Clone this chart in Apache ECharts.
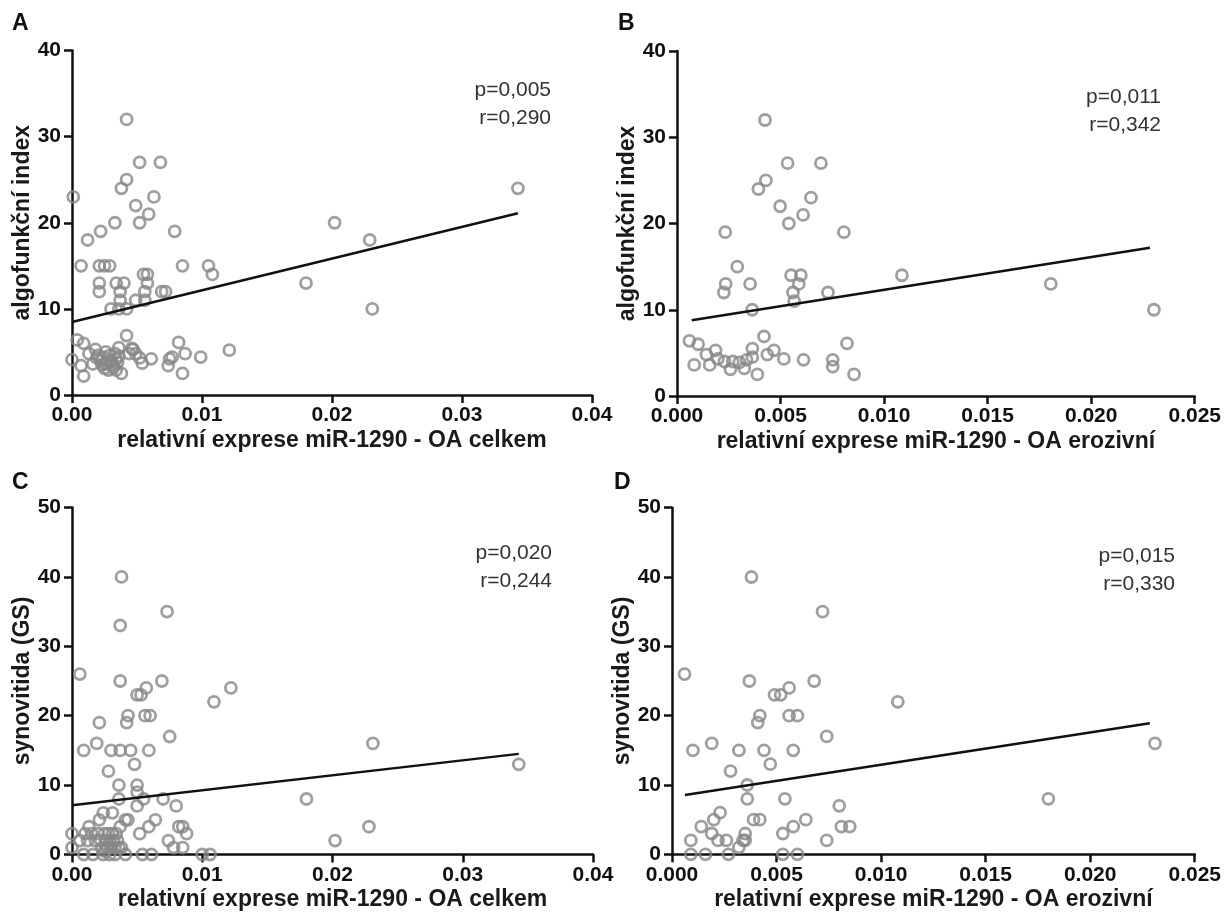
<!DOCTYPE html>
<html><head><meta charset="utf-8">
<script src="https://cdn.jsdelivr.net/npm/echarts@6/dist/echarts.min.js"></script>
<style>html,body{margin:0;padding:0;background:#fff}#c{width:1224px;height:924px}</style>
</head><body><div id="c"></div>
<script>
// ---- Data ----
const panelLetters = ['A', 'B', 'C', 'D'];
const xTitles = ['relativní exprese miR-1290 - OA celkem', 'relativní exprese miR-1290 - OA erozivní',
                 'relativní exprese miR-1290 - OA celkem', 'relativní exprese miR-1290 - OA erozivní'];
const yTitles = ['algofunkční index', 'algofunkční index', 'synovitida (GS)', 'synovitida (GS)'];
const statsP = ['p=0,005', 'p=0,011', 'p=0,020', 'p=0,015'];
const statsR = ['r=0,290', 'r=0,342', 'r=0,244', 'r=0,330'];

// Panel A: algofunkční index vs miR-1290 (OA celkem)
const pointsA = [
  [0.0042,32],[0.0052,27],[0.0068,27],[0.0042,25],[0.0038,24],[0.0063,23],[0.0001,23],[0.0049,22],[0.0059,21],
  [0.0052,20],[0.0033,20],[0.0079,19],[0.0022,19],[0.0012,18],[0.0202,20],[0.0229,18],[0.0343,24],
  [0.0007,15],[0.0021,15],[0.0025,15],[0.0029,15],[0.0085,15],[0.0105,15],[0.0108,14],[0.0055,14],[0.0058,14],
  [0.0021,13],[0.0034,13],[0.0040,13],[0.0058,13],[0.0180,13],
  [0.0021,12],[0.0037,12],[0.0056,12],[0.0069,12],[0.0072,12],
  [0.0037,11],[0.0049,11],[0.0056,11],
  [0.0030,10],[0.0036,10],[0.0042,10],[0.0231,10],
  [0.0000,4.1],[0.0004,6.4],[0.0009,6.0],[0.0007,3.4],[0.0009,2.2],[0.0013,4.8],[0.0016,3.6],[0.0018,5.3],
  [0.0019,4.3],[0.0022,4.0],[0.0025,3.1],[0.0027,4.0],[0.0030,3.9],[0.0032,3.2],[0.0034,4.2],[0.0036,5.5],
  [0.0036,4.5],[0.0038,2.5],[0.0042,6.9],[0.0044,4.8],[0.0047,5.3],[0.0052,4.3],[0.0061,4.2],[0.0075,4.2],
  [0.0074,3.4],[0.0082,6.1],[0.0085,2.5],
  [0.0020,4.6],[0.0023,3.5],[0.0024,4.4],[0.0026,3.6],[0.0028,2.9],[0.0029,4.6],[0.0031,3.5],[0.0033,4.8],
  [0.0034,2.9],[0.0026,5.0],[0.0035,3.8],[0.0046,5.4],[0.0049,4.8],[0.0054,3.7],[0.0077,4.4],[0.0087,4.8],
  [0.0099,4.4],[0.0121,5.2]
];
// Panel B: algofunkční index vs miR-1290 (OA erozivní)
const pointsB = [
  [0.00425,32],[0.00534,27],[0.00695,27],[0.00429,25],[0.00393,24],[0.00647,23],[0.00498,22],[0.00609,21],
  [0.0054,20],[0.00233,19],[0.00806,19],[0.00291,15],[0.00235,13],[0.00226,12],[0.00353,13],[0.00363,10],
  [0.00551,14],[0.00598,14],[0.00588,13],[0.0056,12],[0.00566,11],[0.00729,12],[0.01086,14],[0.01805,13],[0.02303,10],
  [0.0006,6.4],[0.00102,6.0],[0.00142,4.8],[0.00083,3.6],[0.00158,3.6],[0.00186,5.3],[0.00197,4.3],[0.00229,4.0],
  [0.00258,3.1],[0.00269,4.0],[0.00301,3.9],[0.00325,3.2],[0.00336,4.2],[0.00364,5.5],[0.00364,4.5],[0.00388,2.5],
  [0.0042,6.9],[0.00436,4.8],[0.00468,5.3],[0.00516,4.3],[0.00611,4.2],[0.00752,4.2],[0.00752,3.4],[0.00821,6.1],[0.00855,2.5]
];
// Panel C: synovitida (GS) vs miR-1290 (OA celkem)
const pointsC = [
  [0.0038,40],[0.0073,35],[0.0037,33],[0.0006,26],[0.0037,25],[0.0069,25],[0.0057,24],[0.0122,24],[0.0050,23],
  [0.0053,23],[0.0109,22],[0.0043,20],[0.0056,20],[0.0060,20],[0.0042,19],[0.0021,19],[0.0075,17],[0.0019,16],
  [0.0231,16],[0.0009,15],[0.0030,15],[0.0037,15],[0.0045,15],[0.0059,15],[0.0048,13],[0.0343,13],[0.0028,12],
  [0.0036,10],[0.0050,10],[0.0050,9],[0.0036,8],[0.0055,8],[0.0070,8],[0.0180,8],[0.0050,7],[0.0080,7],
  [0.0024,6],[0.0031,6],[0.0021,5],[0.0041,5],[0.0043,5],[0.0064,5],[0.0059,4],[0.0013,4],[0.0082,4],[0.0085,4],
  [0.0228,4],[0.0052,3],[0.0088,3],[0.0074,2],[0.0202,2],[0.0078,1],[0.0085,1],[0.0000,3],[0.0000,1],[0.0006,2],
  [0.0010,3],[0.0012,2],[0.0015,3],[0.0018,2],[0.0020,3],[0.0022,2],[0.0023,1],[0.0025,3],[0.0026,2],[0.0027,1],
  [0.0028,3],[0.0029,2],[0.0030,1],[0.0031,3],[0.0032,2],[0.0033,1],[0.0034,3],[0.0035,2],[0.0036,1],[0.0037,4],
  [0.0038,1],[0.0025,0.5],
  [0.0009,0],[0.0016,0],[0.0024,0],[0.0029,0],[0.0033,0],[0.0041,0],[0.0054,0],[0.0061,0],[0.0100,0],[0.0106,0]
];
// Panel D: synovitida (GS) vs miR-1290 (OA erozivní)
const pointsD = [
  [0.0038,40],[0.0072,35],[0.0006,26],[0.0037,25],[0.0068,25],[0.0056,24],[0.0049,23],[0.0052,23],[0.0108,22],
  [0.0042,20],[0.0041,19],[0.0056,20],[0.0060,20],[0.0074,17],[0.0019,16],[0.0231,16],[0.0010,15],[0.0032,15],
  [0.0044,15],[0.0058,15],[0.0047,13],[0.0028,12],[0.0036,10],[0.0036,8],[0.0054,8],[0.0180,8],[0.0080,7],
  [0.0023,6],[0.0020,5],[0.0039,5],[0.0042,5],[0.0064,5],[0.0014,4],[0.0058,4],[0.0081,4],[0.0085,4],
  [0.0019,3],[0.0035,3],[0.0053,3],[0.0009,2],[0.0022,2],[0.0026,2],[0.0034,2],[0.0035,2],[0.0074,2],
  [0.0032,1],[0.0009,0],[0.0016,0],[0.0027,0],[0.0053,0],[0.0060,0]
];
// Regression line end points
const fitA = [[0.0, 8.47], [0.0343, 21.1]];
const fitB = [[0.00071, 8.78], [0.02284, 17.2]];
const fitC = [[0.0, 7.1], [0.0343, 14.5]];
const fitD = [[0.00062, 8.56], [0.02285, 18.9]];

// Axis settings
const xMax = [0.04, 0.025, 0.04, 0.025];
const xStep = [0.01, 0.005, 0.01, 0.005];
const xDecimals = [2, 3, 2, 3];
const yMax = [40, 40, 50, 50];
const yStep = [10, 10, 10, 10];

const points = [pointsA, pointsB, pointsC, pointsD];
const fits = [fitA, fitB, fitC, fitD];

// ---- Layout ----
const grids = [
  {left: 72, top: 50.5, width: 520, height: 344.5},
  {left: 677, top: 51, width: 522, height: 345},
  {left: 72, top: 507.5, width: 521, height: 347},
  {left: 672, top: 507.7, width: 525, height: 346.6}
];
const letterPos = [[12, 25], [618, 25], [12, 484], [614, 484]];
const statPos = [[551, 90, 118], [1161, 97, 125], [552, 553, 581], [1175, 556, 584]];

const FONT = 'Liberation Sans, Arial, sans-serif';
const AX = '#111';

const chart = echarts.init(document.getElementById('c'), null, {renderer: 'canvas'});
const option = {
  backgroundColor: '#fff',
  animation: false,
  grid: grids.map(g => Object.assign({containLabel: false}, g)),
  xAxis: grids.map((g, i) => ({
    gridIndex: i, type: 'value', min: 0, max: xMax[i], interval: xStep[i],
    axisLine: {show: true, onZero: false, lineStyle: {color: AX, width: 2.5}},
    axisTick: {show: true, length: 8, lineStyle: {color: AX, width: 2.5}},
    splitLine: {show: false},
    axisLabel: {formatter: v => v.toFixed(xDecimals[i]), fontFamily: FONT, fontSize: 21, fontWeight: 'bold', color: AX, margin: 10, showMaxLabel: true, showMinLabel: true},
    name: xTitles[i], nameLocation: 'middle', nameGap: 34,
    nameTextStyle: {fontFamily: FONT, fontSize: 23, fontWeight: 'bold', color: '#1a1a1a'}
  })),
  yAxis: grids.map((g, i) => ({
    gridIndex: i, type: 'value', min: 0, max: yMax[i], interval: yStep[i],
    axisLine: {show: true, onZero: false, lineStyle: {color: AX, width: 2.5}},
    axisTick: {show: true, length: 8, lineStyle: {color: AX, width: 2.5}},
    splitLine: {show: false},
    axisLabel: {fontFamily: FONT, fontSize: 21, fontWeight: 'bold', color: AX, margin: 11},
    name: yTitles[i], nameLocation: 'middle', nameGap: 32, nameRotate: 90,
    nameTextStyle: {fontFamily: FONT, fontSize: 23, fontWeight: 'bold', color: '#1a1a1a'}
  })),
  series: [].concat(
    points.map((pts, i) => ({
      type: 'scatter', xAxisIndex: i, yAxisIndex: i, data: pts,
      symbol: 'circle', symbolSize: 11,
      itemStyle: {color: 'rgba(0,0,0,0)', borderColor: '#878787', borderWidth: 2.8},
      z: 3
    })),
    fits.map((f, i) => ({
      type: 'line', xAxisIndex: i, yAxisIndex: i, data: f,
      showSymbol: false, symbol: 'none',
      lineStyle: {color: '#111', width: 2.5}, z: 4
    }))
  ),
  graphic: [].concat(
    panelLetters.map((t, i) => ({
      type: 'text', left: letterPos[i][0], top: letterPos[i][1] - 13,
      style: {text: t, font: 'bold 23px ' + FONT, fill: '#111'}
    })),
    statsP.map((t, i) => ({
      type: 'text', x: statPos[i][0], y: statPos[i][1],
      style: {text: t, font: '21px ' + FONT, fill: '#333', textAlign: 'right', textVerticalAlign: 'middle'}
    })),
    statsR.map((t, i) => ({
      type: 'text', x: statPos[i][0], y: statPos[i][2],
      style: {text: t, font: '21px ' + FONT, fill: '#333', textAlign: 'right', textVerticalAlign: 'middle'}
    }))
  )
};
chart.setOption(option);
</script>
</body></html>
